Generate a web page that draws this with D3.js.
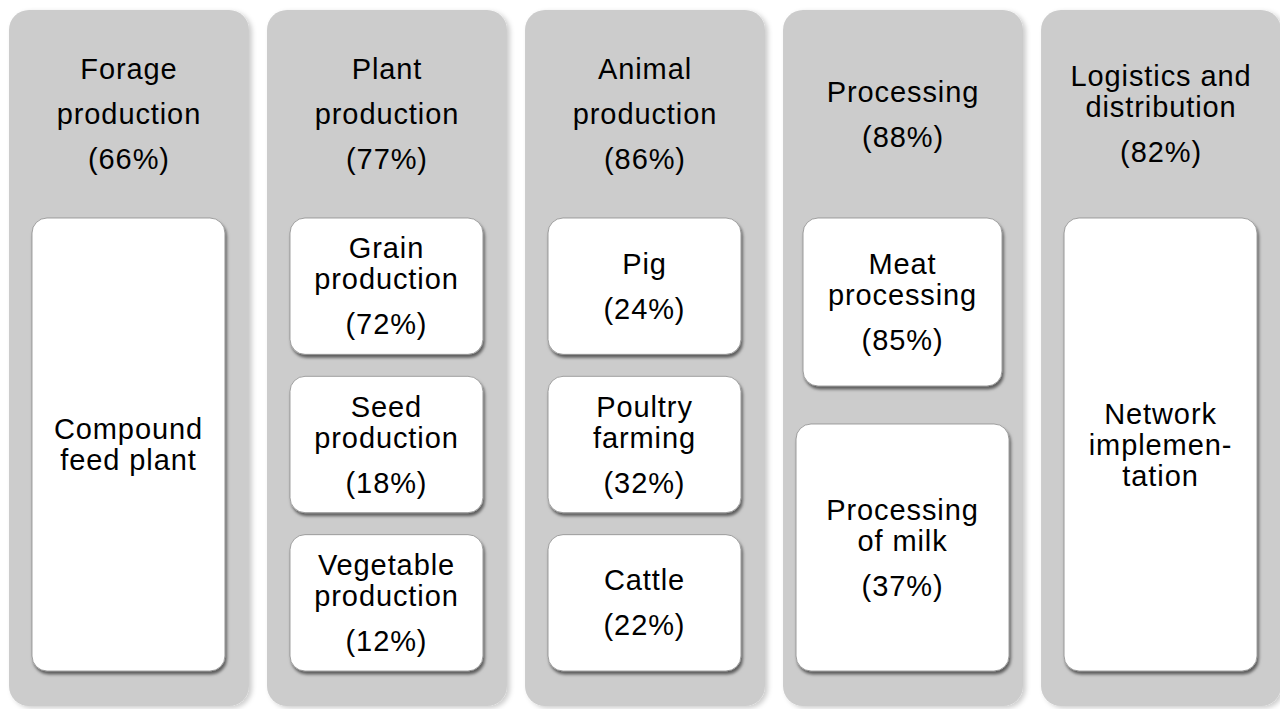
<!DOCTYPE html>
<html>
<head>
<meta charset="utf-8">
<script src="https://cdn.jsdelivr.net/npm/d3@7"></script>
<style>
  body { margin: 0; background: #fff; }
  text { font-family: "Liberation Sans", Arial, sans-serif; fill: #000; }
</style>
</head>
<body>
<div id="chart"></div>
<script>
// value chain stages (top row) and their shares
const stages = ["Forage production", "Plant production", "Animal production", "Processing", "Logistics and distribution"];
const stageShares = [66, 77, 86, 88, 82];
// "\n" = new paragraph, "|" = wrapped line
const stageLabels = ["Forage\nproduction", "Plant\nproduction", "Animal\nproduction", "Processing", "Logistics and|distribution"];

// sub units inside each stage
const units = ["Compound feed plant", "Grain production", "Seed production", "Vegetable production",
               "Pig", "Poultry farming", "Cattle", "Meat processing", "Processing of milk", "Network implementation"];
const unitStage = [0, 1, 1, 1, 2, 2, 2, 3, 3, 4];
const unitShares = [null, 72, 18, 12, 24, 32, 22, 85, 37, null];
const unitLabels = ["Compound|feed plant", "Grain|production", "Seed|production", "Vegetable|production",
                    "Pig", "Poultry|farming", "Cattle", "Meat|processing", "Processing|of milk", "Network|implemen-|tation"];

const width = 1280, height = 709;
const fontSize = 29, wrapGap = 31, paraGap = 45;

const svg = d3.select("#chart")
    .append("svg")
    .attr("width", width)
    .attr("height", height);

const defs = svg.append("defs");
defs.append("filter").attr("id", "colShadow")
    .attr("x", "-10%").attr("y", "-10%").attr("width", "130%").attr("height", "130%")
    .append("feDropShadow")
    .attr("dx", 3).attr("dy", 2).attr("stdDeviation", 2.5)
    .attr("flood-color", "#000").attr("flood-opacity", 0.2);
defs.append("filter").attr("id", "boxShadow")
    .attr("x", "-10%").attr("y", "-10%").attr("width", "130%").attr("height", "130%")
    .append("feDropShadow")
    .attr("dx", 1.5).attr("dy", 3).attr("stdDeviation", 1.6)
    .attr("flood-color", "#000").attr("flood-opacity", 0.55);

// columns
const x = d3.scaleBand()
    .domain(stages)
    .range([9, 1281])
    .paddingInner(0.07);

const colTop = 10, colBottom = 706, headBottom = 218, innerBottom = 671;

// vertical layout of sub boxes in each column (by row weight)
const rowWeights = {
    "Meat processing": 168, "Processing of milk": 247
};
const rowGaps = {0: 0, 1: 22, 2: 22, 3: 38, 4: 0};
// extra side inset per unit (narrow/wide boxes in processing column)
const unitInset = {"Meat processing": 20, "Processing of milk": 13};

function lineList(label, share) {
    // returns [{text, gap}] where gap is spacing from previous line
    const out = [];
    label.split("\n").forEach((para, pi) => {
        para.split("|").forEach((ln, li) => {
            out.push({text: ln, gap: out.length === 0 ? 0 : (li === 0 ? paraGap : wrapGap)});
        });
    });
    if (share !== null) out.push({text: "(" + share + "%)", gap: paraGap});
    return out;
}

function drawText(g, lines, cx, cy) {
    let acc = 0;
    const ys = lines.map(l => (acc += l.gap));
    const mid = (ys[0] + ys[ys.length - 1]) / 2;
    g.selectAll(null)
        .data(lines)
        .enter()
        .append("text")
        .attr("x", cx)
        .attr("y", (d, i) => cy + 10 + ys[i] - mid)
        .attr("text-anchor", "middle")
        .attr("font-size", fontSize)
        .attr("letter-spacing", 0.9)
        .text(d => d.text);
}

// gray stage columns
svg.selectAll("rect.col")
    .data(stages)
    .enter()
    .append("rect")
    .attr("class", "col")
    .attr("x", d => x(d))
    .attr("y", colTop)
    .attr("width", x.bandwidth())
    .attr("height", colBottom - colTop)
    .attr("rx", 20)
    .attr("fill", "#cccccc")
    .attr("filter", "url(#colShadow)");

stages.forEach((s, i) => {
    const g = svg.append("g");
    drawText(g, lineList(stageLabels[i], stageShares[i]), x(s) + x.bandwidth() / 2, (colTop + headBottom) / 2);
});

// sub boxes
stages.forEach((s, si) => {
    const idx = units.map((u, i) => i).filter(i => unitStage[i] === si);
    const names = idx.map(i => units[i]);
    const weights = names.map(n => rowWeights[n] || 1);
    const gap = rowGaps[si];
    const total = innerBottom - headBottom - gap * (names.length - 1);
    const wsum = d3.sum(weights);
    const y = d3.scaleLinear().domain([0, wsum]).range([0, total]);
    let cum = 0;
    names.forEach((n, k) => {
        const i = idx[k];
        const y0 = headBottom + y(cum) + gap * k;
        const h = y(weights[k]);
        cum += weights[k];
        const inset = unitInset[n] !== undefined ? unitInset[n] : 23;
        const bx = x(s) + inset;
        const bw = x.bandwidth() - inset * 2 - 1;
        const g = svg.append("g");
        g.append("rect")
            .attr("x", bx)
            .attr("y", y0)
            .attr("width", bw)
            .attr("height", h)
            .attr("rx", 15)
            .attr("fill", "#ffffff")
            .attr("stroke", "#8c8c8c")
            .attr("stroke-width", 0.8)
            .attr("filter", "url(#boxShadow)");
        drawText(g, lineList(unitLabels[i], unitShares[i]), bx + bw / 2, y0 + h / 2);
    });
});
</script>
</body>
</html>
